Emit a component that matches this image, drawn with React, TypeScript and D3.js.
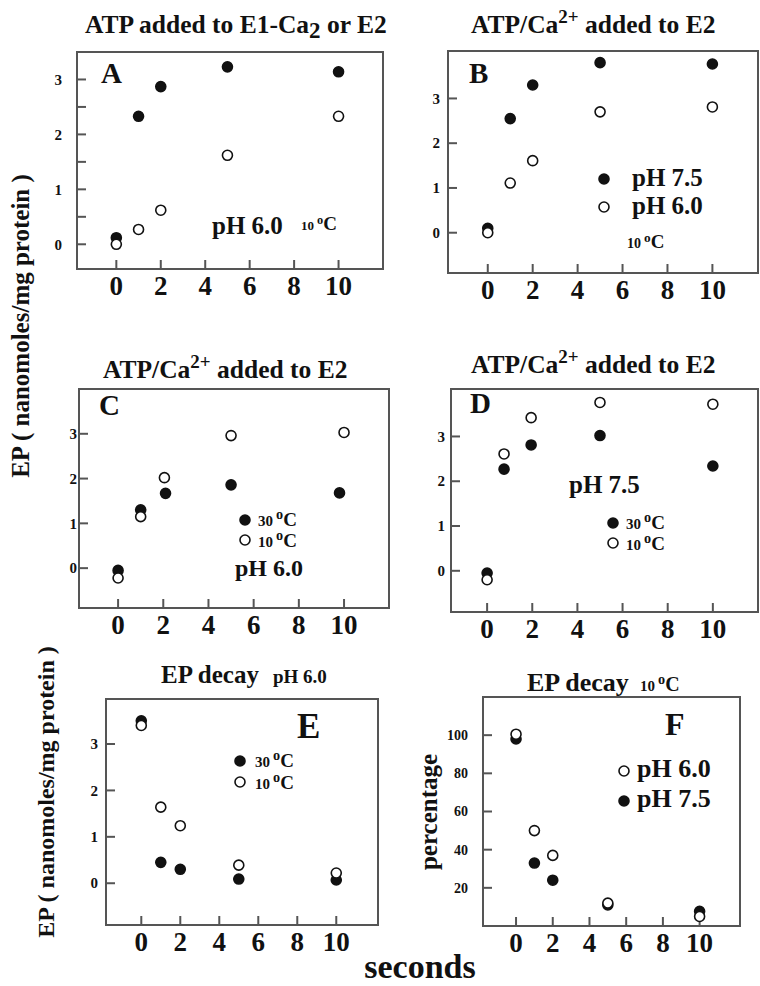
import React from 'react'
import * as d3 from 'd3'

// time points (seconds)
const seconds = [0, 1, 2, 5, 10]
const secondsC30 = [0, 1, 2.1, 5, 9.8]
const secondsC10 = [0, 1, 2.05, 5, 10]
const secondsD = [0, 0.75, 1.95, 5, 10]

// EP values (nanomoles/mg protein)
const aFilled = [0.12, 2.33, 2.87, 3.23, 3.14]
const aOpen = [0, 0.27, 0.62, 1.62, 2.33]
const bPh75 = [0.1, 2.55, 3.3, 3.8, 3.77]
const bPh60 = [0, 1.11, 1.61, 2.7, 2.81]
const c30 = [-0.05, 1.3, 1.67, 1.86, 1.68]
const c10 = [-0.22, 1.15, 2.02, 2.96, 3.03]
const d30 = [-0.05, 2.27, 2.81, 3.02, 2.34]
const d10 = [-0.2, 2.61, 3.42, 3.76, 3.72]
const e30 = [3.5, 0.45, 0.3, 0.09, 0.07]
const e10 = [3.4, 1.64, 1.24, 0.39, 0.22]
// percentage
const fPh60 = [100.5, 50, 37, 12, 5]
const fPh75 = [98, 33, 24, 11, 7.7]

const xTickValues = [0, 2, 4, 6, 8, 10]
const epTicks = [0, 1, 2, 3]
const epMinorA = [0.5, 1.5, 2.5]
const pctTicks = [20, 40, 60, 80, 100]

const FONT = '"Liberation Serif", "Times New Roman", Times, serif'
const INK = '#111'
const FRAME = '#555'

type Series = { x: number[]; y: number[]; filled: boolean }
type PanelCfg = {
  left: number
  top: number
  right: number
  bottom: number
  xDomain: [number, number]
  yDomain: [number, number]
  yTicks: number[]
  yMinor?: number[]
  yGap: number
  yFont: number
  series: Series[]
}

const panels: PanelCfg[] = [
  {
    left: 77, top: 52, right: 383, bottom: 269,
    xDomain: [-1.77, 12], yDomain: [-0.45, 3.5],
    yTicks: epTicks, yMinor: epMinorA, yGap: 15, yFont: 15,
    series: [
      { x: seconds, y: aFilled, filled: true },
      { x: seconds, y: aOpen, filled: false },
    ],
  },
  {
    left: 448, top: 51, right: 758, bottom: 273,
    xDomain: [-1.77, 12.03], yDomain: [-0.9, 4.06],
    yTicks: epTicks, yGap: 8, yFont: 15,
    series: [
      { x: seconds, y: bPh75, filled: true },
      { x: seconds, y: bPh60, filled: false },
    ],
  },
  {
    left: 79, top: 389, right: 389, bottom: 608,
    xDomain: [-1.73, 11.99], yDomain: [-0.89, 4.0],
    yTicks: epTicks, yGap: 2, yFont: 15,
    series: [
      { x: secondsC30, y: c30, filled: true },
      { x: secondsC10, y: c10, filled: false },
    ],
  },
  {
    left: 451, top: 389, right: 758, bottom: 612,
    xDomain: [-1.6, 12], yDomain: [-0.92, 4.06],
    yTicks: epTicks, yGap: 6, yFont: 15,
    series: [
      { x: secondsD, y: d30, filled: true },
      { x: secondsD, y: d10, filled: false },
    ],
  },
  {
    left: 106, top: 699, right: 378, bottom: 925,
    xDomain: [-1.81, 12.14], yDomain: [-0.9, 3.97],
    yTicks: epTicks, yGap: 8, yFont: 15,
    series: [
      { x: seconds, y: e30, filled: true },
      { x: seconds, y: e10, filled: false },
    ],
  },
  {
    left: 483, top: 697, right: 740, bottom: 926,
    xDomain: [-1.8, 12.2], yDomain: [0, 120],
    yTicks: pctTicks, yGap: 15, yFont: 14,
    series: [
      { x: seconds, y: fPh75, filled: true },
      { x: seconds, y: fPh60, filled: false },
    ],
  },
]

const Dot = ({ cx, cy, filled }: { cx: number; cy: number; filled: boolean }) => (
  <circle cx={cx} cy={cy} r={5} fill={filled ? INK : '#fff'} stroke={INK} strokeWidth={1.6} />
)

const Panel = ({ cfg }: { cfg: PanelCfg }) => {
  const x = d3.scaleLinear().domain(cfg.xDomain).range([cfg.left, cfg.right])
  const y = d3.scaleLinear().domain(cfg.yDomain).range([cfg.bottom, cfg.top])
  return (
    <g>
      <rect
        x={cfg.left} y={cfg.top} width={cfg.right - cfg.left} height={cfg.bottom - cfg.top}
        fill="none" stroke={FRAME} strokeWidth={2}
      />
      {xTickValues.map((t) => (
        <g key={'x' + t}>
          <line x1={x(t)} x2={x(t)} y1={cfg.bottom} y2={cfg.bottom - 9} stroke={FRAME} strokeWidth={2} />
          <text x={x(t)} y={cfg.bottom + 26} textAnchor="middle" fontSize={27} fontWeight="bold">
            {t}
          </text>
        </g>
      ))}
      {cfg.yTicks.map((t) => (
        <g key={'y' + t}>
          <line x1={cfg.left} x2={cfg.left + 9} y1={y(t)} y2={y(t)} stroke={FRAME} strokeWidth={2} />
          <text
            x={cfg.left - cfg.yGap} y={y(t) + cfg.yFont * 0.35}
            textAnchor="end" fontSize={cfg.yFont} fontWeight="bold"
          >
            {t}
          </text>
        </g>
      ))}
      {(cfg.yMinor || []).map((t) => (
        <line key={'m' + t} x1={cfg.left} x2={cfg.left + 9} y1={y(t)} y2={y(t)} stroke={FRAME} strokeWidth={2} />
      ))}
      {cfg.series.map((s, i) => (
        <g key={'s' + i}>
          {s.x.map((v, j) => (
            <Dot key={j} cx={x(v)} cy={y(s.y[j])} filled={s.filled} />
          ))}
        </g>
      ))}
    </g>
  )
}

// "10 °C" style label with small number and raised "o"
const Degree = ({ x, y, num, numSize, cSize }: { x: number; y: number; num: string; numSize: number; cSize: number }) => (
  <text x={x} y={y} fontWeight="bold">
    <tspan fontSize={numSize}>{num}</tspan>
    <tspan fontSize={numSize * 0.95} dx={3} dy={-numSize * 0.45}>o</tspan>
    <tspan fontSize={cSize} dy={numSize * 0.45}>C</tspan>
  </text>
)

const CaTitle = ({ x, y }: { x: number; y: number }) => (
  <text x={x} y={y} fontSize={25.5} fontWeight="bold">
    <tspan>ATP/Ca</tspan>
    <tspan fontSize={19} dy={-10}>2+</tspan>
    <tspan dy={10}> added to E2</tspan>
  </text>
)

const App = () => {
  return (
    <svg
      width={760} height={986}
      style={{ position: 'absolute', left: 0, top: 0, background: '#fff' }}
      fontFamily={FONT} fill={INK}
    >
      {panels.map((p, i) => (
        <Panel key={i} cfg={p} />
      ))}

      {/* panel A */}
      <text x={85} y={33} fontSize={25.5} fontWeight="bold">
        <tspan>ATP added to E1-Ca</tspan>
        <tspan fontSize={23} dy={5}>2</tspan>
        <tspan dy={-5}> or E2</tspan>
      </text>
      <text x={101} y={83} fontSize={29} fontWeight="bold">A</text>
      <text x={212} y={234} fontSize={25} fontWeight="bold">pH 6.0</text>
      <Degree x={301} y={230} num="10" numSize={13} cSize={19} />

      {/* panel B */}
      <CaTitle x={471} y={33} />
      <text x={469} y={83} fontSize={29} fontWeight="bold">B</text>
      <Dot cx={604} cy={179} filled />
      <text x={632} y={186} fontSize={25} fontWeight="bold">pH 7.5</text>
      <Dot cx={604} cy={207} filled={false} />
      <text x={632} y={214} fontSize={25} fontWeight="bold">pH 6.0</text>
      <Degree x={627} y={248} num="10" numSize={14} cSize={19} />

      {/* panel C */}
      <CaTitle x={103} y={378} />
      <text x={99} y={415} fontSize={29} fontWeight="bold">C</text>
      <Dot cx={245} cy={520} filled />
      <Degree x={258} y={526} num="30" numSize={15} cSize={19} />
      <Dot cx={245} cy={540} filled={false} />
      <Degree x={258} y={547} num="10" numSize={15} cSize={19} />
      <text x={235} y={576} fontSize={24} fontWeight="bold">pH 6.0</text>

      {/* panel D */}
      <CaTitle x={471} y={373} />
      <text x={470} y={413} fontSize={29} fontWeight="bold">D</text>
      <text x={569} y={493} fontSize={25} fontWeight="bold">pH 7.5</text>
      <Dot cx={613} cy={523} filled />
      <Degree x={626} y={529} num="30" numSize={15} cSize={19} />
      <Dot cx={613} cy={543} filled={false} />
      <Degree x={626} y={550} num="10" numSize={15} cSize={19} />

      {/* panel E */}
      <text x={161} y={683} fontWeight="bold">
        <tspan fontSize={25}>EP decay</tspan>
        <tspan fontSize={19} dx={14}>pH 6.0</tspan>
      </text>
      <text x={297} y={738} fontSize={35} fontWeight="bold">E</text>
      <Dot cx={240} cy={761} filled />
      <Degree x={255} y={767} num="30" numSize={15} cSize={19} />
      <Dot cx={240} cy={782} filled={false} />
      <Degree x={255} y={789} num="10" numSize={15} cSize={19} />

      {/* panel F */}
      <text x={527} y={691} fontSize={26} fontWeight="bold">EP decay</text>
      <Degree x={640} y={691} num="10" numSize={15} cSize={20} />
      <text x={665} y={735} fontSize={32} fontWeight="bold">F</text>
      <Dot cx={624} cy={771} filled={false} />
      <text x={637} y={777} fontSize={26} fontWeight="bold">pH 6.0</text>
      <Dot cx={624} cy={801} filled />
      <text x={637} y={807} fontSize={26} fontWeight="bold">pH 7.5</text>

      {/* axis titles */}
      <text
        transform="translate(29,326) rotate(-90)" textAnchor="middle"
        fontSize={25} fontWeight="bold"
      >
        EP ( nanomoles/mg protein )
      </text>
      <text
        transform="translate(54,792) rotate(-90)" textAnchor="middle"
        fontSize={24} fontWeight="bold"
      >
        EP ( nanomoles/mg protein )
      </text>
      <text
        transform="translate(437,812) rotate(-90)" textAnchor="middle"
        fontSize={25} fontWeight="bold"
      >
        percentage
      </text>
      <text x={420} y={978} textAnchor="middle" fontSize={34} fontWeight="bold">
        seconds
      </text>
    </svg>
  )
}

export default App
